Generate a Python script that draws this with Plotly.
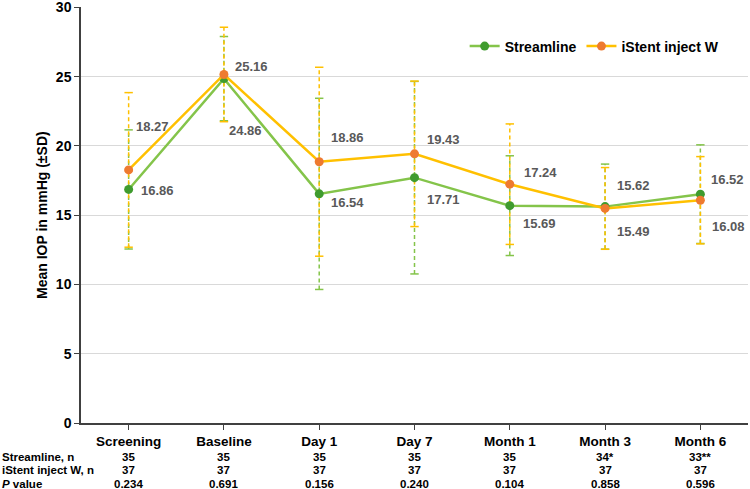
import plotly.graph_objects as go

categories = ["Screening", "Baseline", "Day 1", "Day 7", "Month 1", "Month 3", "Month 6"]
streamline_mean = [16.86, 24.86, 16.54, 17.71, 15.69, 15.62, 16.52]
streamline_sd = [4.30, 3.04, 6.90, 6.95, 3.60, 3.07, 3.56]
istent_mean = [18.27, 25.16, 18.86, 19.43, 17.24, 15.49, 16.08]
istent_sd = [5.58, 3.41, 6.82, 5.25, 4.35, 2.95, 3.15]
streamline_n = ["35", "35", "35", "35", "35", "34*", "33**"]
istent_n = ["37", "37", "37", "37", "37", "37", "37"]
p_values = ["0.234", "0.691", "0.156", "0.240", "0.104", "0.858", "0.596"]

# label offsets (pixels) - style only
st_dx = [10, 3, 10, 10, 11, 10, 9]
st_dy = [-1, -52, -9, -22, -18, 21, 15]
is_dx = [5, 9, 10, 10, 12, 10, 10]
is_dy = [43, 7.5, 24, 14, 12, -23, -26]

FONT = "Liberation Sans, Arial, sans-serif"
G_LINE, G_MARK = "#84C44A", "#3F9B2E"
Y_LINE, Y_MARK = "#FFC000", "#EE7A30"

def err_xy(means, sds):
    xs, ys = [], []
    for c, m, s in zip(categories, means, sds):
        xs += [c, c, None]
        ys += [m - s, m + s, None]
    return xs, ys

fig = go.Figure()
for means, sds, col in [(streamline_mean, streamline_sd, G_LINE), (istent_mean, istent_sd, Y_LINE)]:
    ex, ey = err_xy(means, sds)
    fig.add_trace(go.Scatter(
        x=ex, y=ey, mode="lines+markers", showlegend=False, hoverinfo="skip",
        line=dict(color=col, width=1.5, dash="4px,3px"),
        marker=dict(symbol="line-ew", size=6, line=dict(color=col, width=1.5)),
    ))

fig.add_trace(go.Scatter(
    x=categories, y=streamline_mean, mode="lines+markers", name="Streamline",
    line=dict(color=G_LINE, width=2.5), marker=dict(color=G_MARK, size=9),
))
fig.add_trace(go.Scatter(
    x=categories, y=istent_mean, mode="lines+markers", name="iStent inject W",
    line=dict(color=Y_LINE, width=2.5), marker=dict(color=Y_MARK, size=9),
))

annotations = []
for vals, dxs, dys in [(streamline_mean, st_dx, st_dy), (istent_mean, is_dx, is_dy)]:
    for c, v, dx, dy in zip(categories, vals, dxs, dys):
        annotations.append(dict(
            x=c, y=v, xref="x", yref="y", text=f"{v:.2f}", showarrow=False,
            xanchor="left", yanchor="middle", xshift=dx, yshift=dy,
            font=dict(family=FONT, size=13, color="#595959", weight="bold"),
        ))

row_labels = ["Streamline, n", "iStent inject W, n", "<i>P</i> value"]
row_shifts = [-34, -47, -61]
for lab, rows, ys in zip(row_labels, [streamline_n, istent_n, p_values], row_shifts):
    annotations.append(dict(
        x=0, y=0, xref="paper", yref="paper", text=lab, showarrow=False,
        xanchor="left", yanchor="middle", xshift=-81, yshift=ys,
        font=dict(family=FONT, size=11.5, color="#000000", weight="bold"),
    ))
    for c, t in zip(categories, rows):
        annotations.append(dict(
            x=c, y=0, xref="x", yref="paper", text=t, showarrow=False,
            xanchor="center", yanchor="middle", yshift=ys,
            font=dict(family=FONT, size=11.5, color="#000000", weight="bold"),
        ))

# y-axis title as annotation (fixed position)
annotations.append(dict(
    x=0, y=0.5, xref="paper", yref="paper", text="Mean IOP in mmHg (±SD)",
    showarrow=False, textangle=-90, xanchor="center", yanchor="middle", xshift=-39,
    font=dict(family=FONT, size=14, color="#000000", weight="bold"),
))

fig.update_layout(
    width=750, height=489,
    margin=dict(l=81, r=2, t=7, b=66, autoexpand=False),
    paper_bgcolor="white", plot_bgcolor="white",
    font=dict(family=FONT, color="#000000"),
    showlegend=True,
    legend=dict(orientation="h", x=0.965, xanchor="right", y=0.905, yanchor="middle",
                font=dict(family=FONT, size=14, color="#000000", weight="bold"),
                bgcolor="rgba(0,0,0,0)"),
    annotations=annotations,
)
fig.update_xaxes(
    type="category", categoryorder="array", categoryarray=categories,
    range=[-0.5, 6.5], showline=True, linecolor="#404040", linewidth=1.5,
    ticks="outside", ticklen=5, tickcolor="#404040", showgrid=False, automargin=False,
    tickfont=dict(family=FONT, size=13.5, color="#000000", weight="bold"),
)
fig.update_yaxes(
    range=[0, 30.03], tickvals=[0, 5, 10, 15, 20, 25, 30], showline=True,
    linecolor="#404040", linewidth=1.5, ticklabeloverflow="allow",
    ticks="outside", ticklen=5, tickcolor="#404040", automargin=False,
    showgrid=True, gridcolor="#D9D9D9", gridwidth=1, zeroline=False,
    tickfont=dict(family=FONT, size=14, color="#000000", weight="bold"),
)

fig.write_html("out.html", config={"displayModeBar": False},
               post_script="document.body.style.margin='0';")
